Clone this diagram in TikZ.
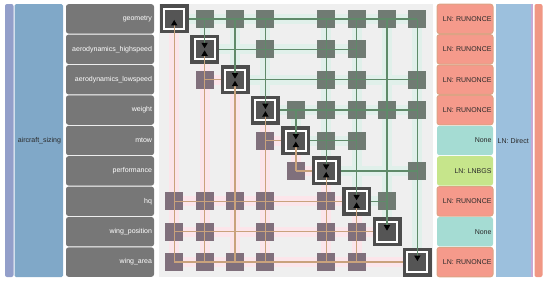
\documentclass[tikz,border=0pt]{standalone}
\usepackage{fontspec}
\setmainfont{Liberation Sans}
\usetikzlibrary{arrows.meta,backgrounds}
\definecolor{compgray}{HTML}{777777}
\definecolor{matbg}{HTML}{EFEFEF}
\definecolor{upgray}{HTML}{707B73}
\definecolor{lowgray}{HTML}{80707C}
\definecolor{coregray}{HTML}{555555}
\definecolor{framegray}{HTML}{4D4D4D}
\definecolor{fwdgreen}{HTML}{5F8A69}
\definecolor{bwdtan}{HTML}{C9A27C}
\definecolor{pinkglow}{HTML}{FCE5EA}
\definecolor{mintglow}{HTML}{E0F0EA}
\definecolor{rootlav}{HTML}{939FCA}
\definecolor{groupblue}{HTML}{80A8C8}
\definecolor{directblue}{HTML}{9CC0DD}
\definecolor{sidelav}{HTML}{C6A9D6}
\definecolor{salmon}{HTML}{F59A8B}
\definecolor{salmonedge}{HTML}{DCA384}
\definecolor{teal}{HTML}{A5DCD3}
\definecolor{lime}{HTML}{C6E58B}
\definecolor{darktext}{HTML}{2A2A2A}
\begin{document}
\begin{tikzpicture}[x=1pt, y=-1pt, font=\fontsize{7}{8.4}\selectfont,
  comp/.style={fill=compgray, rounded corners=2.5pt, text=white, minimum height=29.4pt,
    text width=84pt, align=right, inner xsep=2pt, inner ysep=0pt},
  solver/.style={rounded corners=2.5pt, text=darktext, minimum height=29.4pt,
    text width=53pt, align=right, inner xsep=1.5pt, inner ysep=0pt},
  runonce/.style={fill=salmon, draw=salmonedge, line width=1pt},
  nosolver/.style={fill=teal},
  lnbgs/.style={fill=lime},
  cell/.style={minimum size=18pt, inner sep=0pt, outer sep=0pt},
  upcell/.style={cell, fill=upgray},
  lowcell/.style={cell, fill=lowgray},
  diagframe/.style={minimum size=25.5pt, inner sep=0pt, fill=white, draw=framegray, line width=3.5pt},
  diagcore/.style={cell, fill=coregray},
  fwd/.style={draw=fwdgreen, line width=1.4pt},
  bwd/.style={draw=bwdtan, line width=1.4pt},
  fwdglow/.style={draw=mintglow, line width=10pt},
  bwdglow/.style={draw=pinkglow, line width=10pt},
  tip/.style={-{Triangle[width=6pt,length=5.5pt,color=black,fill=black]}, shorten >=1pt}]
\useasboundingbox (0,0) rectangle (550,284);
\fill[rootlav, rounded corners=2pt] (5,4) rectangle (13.5,277);
\node[fill=groupblue, rounded corners=1.5pt, minimum width=48.5pt, minimum height=273pt,
  text width=44.5pt, align=right, inner xsep=2pt, inner ysep=0pt, text=darktext] (sizing) at (38.75,140.5) {aircraft\_sizing};
\foreach \i/\name in {0/geometry, 1/aerodynamics\_highspeed, 2/aerodynamics\_lowspeed, 3/weight,
  4/mtow, 5/performance, 6/hq, 7/wing\_position, 8/wing\_area}
{
  \node[comp] (n\i) at (110,{18.9+30.4*\i}) {\name};
}
\foreach \i/\lbl/\kind in {0/LN: RUNONCE/runonce, 1/LN: RUNONCE/runonce, 2/LN: RUNONCE/runonce,
  3/LN: RUNONCE/runonce, 4/None/nosolver, 5/LN: LNBGS/lnbgs, 6/LN: RUNONCE/runonce,
  7/None/nosolver, 8/LN: RUNONCE/runonce}
{
  \node[solver, \kind] (s\i) at (465,{18.9+30.4*\i}) {\lbl};
}
\node[fill=directblue, minimum width=34.5pt, minimum height=273pt, inner sep=0pt, text=darktext] (direct) at (513.25,140.5) {LN: Direct};
\fill[sidelav] (530.5,4) rectangle (533,277);
\fill[salmon!90!brown, rounded corners=2pt] (534.5,4) rectangle (542.5,277);
\begin{scope}[on background layer]
\fill[matbg] (159,4) rectangle (432.6,277);
\end{scope}
\foreach \i/\j in {0/1,0/2,0/3,0/5,0/6,0/7,0/8, 1/3,1/5,1/6, 2/5,2/6,2/8, 3/4,3/5,3/6,3/7,3/8,
  4/5,4/6, 5/8, 6/7}
{
  \node[upcell] (m\i\j) at ({174.2+30.4*\j},{18.9+30.4*\i}) {};
}
\foreach \i/\j in {2/1, 4/3, 5/4, 6/0,6/1,6/2,6/3,6/5, 7/0,7/1,7/3,7/5,7/6, 8/0,8/1,8/2,8/3,8/5,8/6}
{
  \node[lowcell] (m\i\j) at ({174.2+30.4*\j},{18.9+30.4*\i}) {};
}
\foreach \i in {0,...,8}
{
  \node[diagframe] (d\i) at ({174.2+30.4*\i},{18.9+30.4*\i}) {};
  \node[diagcore] at (d\i) {};
}
\foreach \a/\b in {d0.center/m08.center, d1.center/m16.center, d2.center/m28.center, d3.center/m38.center,
  d4.center/m46.center, d5.center/m58.center, d6.center/m67.center,
  m01.center/d1.center, m02.center/d2.center, m03.center/d3.center, m34.center/d4.center,
  m05.center/d5.center, m06.center/d6.center, m07.center/d7.center, m08.center/d8.center}
{
  \begin{scope}[on background layer]
  \draw[fwdglow] (\a) -- (\b);
  \end{scope}
}
\foreach \a/\b in {m21.center/d2.center, m43.center/d4.center, m54.center/d5.center, m60.center/d6.center,
  m70.center/d7.center, m80.center/d8.center,
  m80.center/d0.center, m81.center/d1.center, m82.center/d2.center, m83.center/d3.center,
  m54.center/d4.center, m85.center/d5.center, m86.center/d6.center}
{
  \begin{scope}[on background layer]
  \draw[bwdglow] (\a) -- (\b);
  \end{scope}
}
\foreach \a/\b in {d0.east/m08.center, d1.east/m16.center, d2.east/m28.center, d3.east/m38.center,
  d4.east/m46.center, d5.east/m58.center, d6.east/m67.center}
{
  \draw[fwd] (\a) -- (\b);
}
\foreach \a/\b in {m21.center/d2.west, m43.center/d4.west, m54.center/d5.west, m60.center/d6.west,
  m70.center/d7.west, m80.center/d8.west}
{
  \draw[bwd] (\a) -- (\b);
}
\foreach \a/\b in {m01/d1, m02/d2, m03/d3, m34/d4, m05/d5, m06/d6, m07/d7, m08/d8}
{
  \draw[fwd, tip] (\a.center) -- (\b.center);
}
\foreach \a/\b in {m80/d0, m81/d1, m82/d2, m83/d3, m54/d4, m85/d5, m86/d6}
{
  \draw[bwd, tip] (\a.center) -- (\b.center);
}
\end{tikzpicture}
\end{document}
